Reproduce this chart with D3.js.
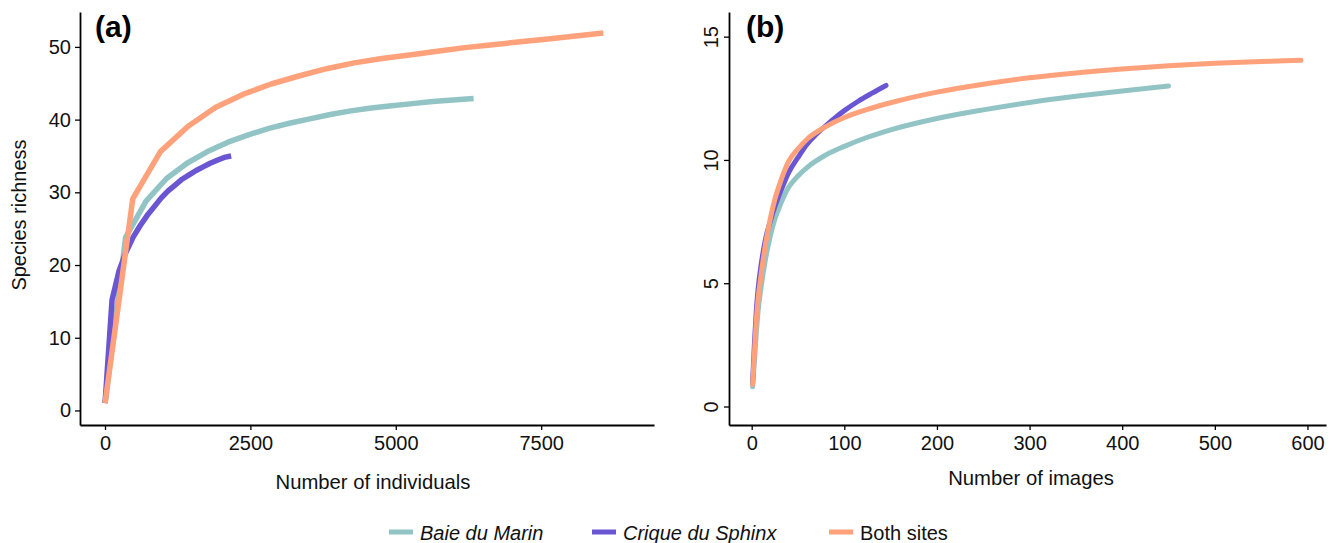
<!DOCTYPE html>
<html>
  <head>
    <meta charset="UTF-8" />
    <style>
      body { margin: 0; background: #fff; }
      svg { display: block; font-family: "Liberation Sans", Arial, sans-serif; }
    </style>
  </head>
  <body>
    <svg></svg>
    <script src="https://d3js.org/d3.v7.min.js"></script>
    <script>
      let width = 1333,
        height = 543;

      // series names + colours
      let sites = ["Baie du Marin", "Crique du Sphinx", "Both sites"];
      let colors = ["#93c4c5", "#6a56d2", "#ffa17b"];
      let italic = [true, true, false];

      // (a) rarefaction by individuals  [n, species]
      let indivBaie = [[1,1],[354,23.8],[706,28.8],[1058,31.9],[1410,34.0],[1762,35.6],[2114,36.9],[2466,37.9],[2818,38.8],[3170,39.5],[3522,40.1],[3874,40.7],[4226,41.2],[4578,41.6],[4930,41.9],[5282,42.2],[5634,42.5],[5986,42.7],[6338,42.9]];
      let indivSphinx = [[1,1],[121,15.2],[241,19.2],[362,21.8],[482,23.8],[603,25.4],[723,26.8],[844,28.0],[964,29.2],[1085,30.2],[1205,31.0],[1326,31.8],[1446,32.4],[1567,33.0],[1687,33.5],[1808,34.0],[1928,34.4],[2049,34.8],[2169,35.0]];
      let indivBoth = [[1,1],[477,29.1],[953,35.6],[1429,39.1],[1905,41.7],[2381,43.5],[2857,44.9],[3333,46.0],[3809,47.0],[4285,47.8],[4761,48.4],[5237,48.9],[5713,49.4],[6189,49.9],[6665,50.3],[7141,50.7],[7617,51.1],[8093,51.5],[8569,51.9]];

      // (b) rarefaction by images  [images, species]
      let imgBaie = [[1,0.8],[3,1.9],[5,3.0],[7,3.9],[10,4.8],[15,6.0],[20,6.9],[25,7.6],[30,8.1],[40,8.9],[50,9.35],[60,9.7],[80,10.2],[100,10.55],[125,10.92],[150,11.22],[200,11.68],[250,12.03],[300,12.33],[350,12.58],[400,12.8],[450,13.0]];
      let imgSphinx = [[1,1.0],[3,2.6],[5,3.9],[7,4.8],[10,5.7],[15,6.8],[20,7.5],[25,8.1],[30,8.6],[40,9.5],[50,10.1],[60,10.65],[70,11.05],[85,11.55],[100,12.0],[115,12.38],[130,12.71],[145,13.02]];
      let imgBoth = [[1,0.9],[3,2.2],[5,3.5],[7,4.4],[10,5.3],[15,6.6],[20,7.6],[25,8.4],[30,9.0],[40,9.95],[50,10.45],[60,10.85],[80,11.35],[100,11.72],[125,12.05],[150,12.32],[200,12.75],[250,13.07],[300,13.33],[350,13.53],[400,13.69],[450,13.82],[500,13.92],[550,13.99],[593,14.04]];

      let ticksA_x = [0, 2500, 5000, 7500];
      let ticksA_y = [0, 10, 20, 30, 40, 50];
      let ticksB_x = [0, 100, 200, 300, 400, 500, 600];
      let ticksB_y = [0, 5, 10, 15];

      let svg = d3.select("svg").attr("width", width).attr("height", height);

      function panel(opts) {
        let x = d3.scaleLinear().domain(opts.xDomain).range([opts.left, opts.right]);
        let y = d3.scaleLinear().domain(opts.yDomain).range([425, 12]);
        let g = svg.append("g");

        let xAxis = g.append("g")
          .attr("transform", "translate(0,425)")
          .call(d3.axisBottom(x).tickValues(opts.xTicks).tickFormat(d3.format("d"))
            .tickSize(5).tickPadding(6).tickSizeOuter(0));
        let yAxis = g.append("g")
          .attr("transform", `translate(${opts.left},0)`)
          .call(d3.axisLeft(y).tickValues(opts.yTicks).tickFormat(d3.format("d"))
            .tickSize(5).tickPadding(4).tickSizeOuter(0));

        [xAxis, yAxis].forEach((a) => {
          a.select(".domain").attr("stroke", "#000").attr("stroke-width", 1.8);
          a.selectAll(".tick line").attr("stroke", "#000").attr("stroke-width", 1.3);
          a.selectAll("text").attr("fill", "#111").style("font-size", "20px").style("font-family", "inherit");
        });

        if (opts.rotateY) {
          yAxis.selectAll(".tick text")
            .attr("text-anchor", "middle")
            .attr("x", 0).attr("dy", 0)
            .attr("transform", "translate(-11,0) rotate(-90)");
        }

        let line = d3.line()
          .x((d) => x(d[0]))
          .y((d) => y(d[1]))
          .curve(opts.curve);

        opts.series.forEach((s, i) => {
          g.append("path")
            .datum(s)
            .attr("fill", "none")
            .attr("stroke", colors[i])
            .attr("stroke-width", opts.lw)
            .attr("stroke-linecap", opts.cap)
            .attr("stroke-linejoin", "round")
            .attr("d", line);
        });

        g.append("text")
          .attr("x", opts.tagX).attr("y", 37)
          .style("font-size", "30px").style("font-weight", "bold")
          .text(opts.tag);

        g.append("text")
          .attr("x", opts.titleX).attr("y", opts.titleY)
          .attr("text-anchor", "middle")
          .style("font-size", "20.3px").attr("fill", "#111")
          .text(opts.title);
      }

      panel({
        xDomain: [-430, 9440], yDomain: [-2, 54.8], left: 80, right: 654,
        xTicks: ticksA_x, yTicks: ticksA_y,
        series: [indivBaie, indivSphinx, indivBoth],
        curve: d3.curveLinear, lw: 5.5, cap: "butt",
        tag: "(a)", tagX: 95, title: "Number of individuals", titleX: 373, titleY: 489
      });

      panel({
        xDomain: [-24.5, 620], yDomain: [-0.75, 16.0], left: 729, right: 1326,
        xTicks: ticksB_x, yTicks: ticksB_y,
        series: [imgBaie, imgSphinx, imgBoth],
        curve: d3.curveMonotoneX, lw: 5, cap: "round", rotateY: true,
        tag: "(b)", tagX: 746, title: "Number of images", titleX: 1031, titleY: 485
      });

      // y title (shared on left)
      svg.append("text")
        .attr("transform", "translate(26,215) rotate(-90)")
        .attr("text-anchor", "middle")
        .style("font-size", "20px").attr("fill", "#111")
        .text("Species richness");

      // legend
      let legendX = [389, 592, 829];
      let leg = svg.append("g").selectAll("g")
        .data(sites)
        .join("g")
        .attr("transform", (d, i) => `translate(${legendX[i]},532)`);
      leg.append("rect")
        .attr("x", 0).attr("y", -2.5).attr("width", 24).attr("height", 5)
        .attr("fill", (d, i) => colors[i]);
      leg.append("text")
        .attr("x", 31).attr("y", 7.5)
        .style("font-size", "20px")
        .style("font-style", (d, i) => (italic[i] ? "italic" : "normal"))
        .attr("fill", "#111")
        .text((d) => d);
    </script>
  </body>
</html>
